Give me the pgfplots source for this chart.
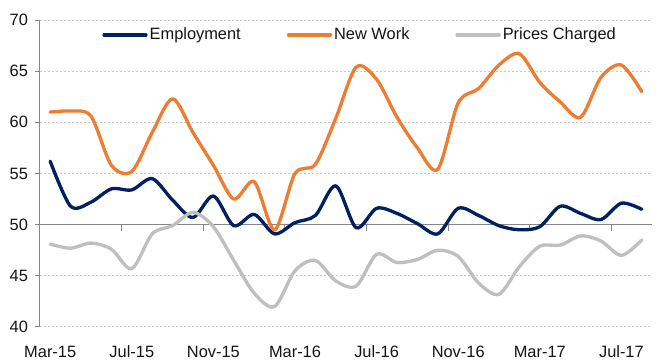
\documentclass[border=0pt]{standalone}
\usepackage{pgfplots}
\pgfplotsset{compat=1.18}
\usepackage{fontspec}
\setmainfont{Liberation Sans}
\definecolor{emp}{RGB}{0,32,96}
\definecolor{nw}{RGB}{237,125,49}
\definecolor{pc}{RGB}{191,191,191}
\definecolor{txt}{RGB}{20,20,20}
\definecolor{axgray}{RGB}{134,134,134}
\definecolor{gridgray}{RGB}{200,200,200}
\begin{document}
\fontsize{12.3}{14}\selectfont
\begin{tikzpicture}
\begin{axis}[
  scale only axis, width=459pt, height=230.25pt,
  xmin=-0.5, xmax=29.5, ymin=40, ymax=70,
  ytick={40,45,...,70},
  xtick={0,4,...,28},
  xticklabels={Mar-15,Jul-15,Nov-15,Mar-16,Jul-16,Nov-16,Mar-17,Jul-17},
  axis lines*=left,
  x axis line style={draw=none},
  y axis line style={draw=axgray, line width=0.75pt},
  xtick style={draw=none},
  ytick style={draw=axgray, line width=0.75pt},
  tick align=outside,
  major tick length=3.75pt,
  ymajorgrids,
  grid style={gridgray, line width=0.75pt, dash pattern=on 1.5pt off 1.5pt},
  /pgf/number format/assume math mode=true,
  tick label style={font=\fontsize{12.3}{14}\selectfont, text=txt},
  yticklabel style={xshift=-1pt},
  xticklabel style={yshift=-6pt},
  legend style={at={(axis description cs:0.523,0.951)}, anchor=center,
    draw=none, fill=none, font=\fontsize{12.3}{14}\selectfont, text=txt,
    nodes={inner sep=1.5pt},
    /tikz/every even column/.append style={column sep=33pt}},
  legend columns=3,
  legend cell align=left,
  legend image code/.code={\draw[#1] (0pt,0pt) -- (31.5pt,0pt);},
  every axis plot/.append style={line width=2.5pt, line join=round, line cap=round},
]
\draw[axgray, line width=0.75pt] (axis cs:-0.5,50) -- (axis cs:29.5,50);
\draw[axgray, line width=0.75pt] (axis cs:3.5,50) -- ++(0pt,-4.5pt);
\draw[axgray, line width=0.75pt] (axis cs:7.5,50) -- ++(0pt,-4.5pt);
\draw[axgray, line width=0.75pt] (axis cs:11.5,50) -- ++(0pt,-4.5pt);
\draw[axgray, line width=0.75pt] (axis cs:15.5,50) -- ++(0pt,-4.5pt);
\draw[axgray, line width=0.75pt] (axis cs:19.5,50) -- ++(0pt,-4.5pt);
\draw[axgray, line width=0.75pt] (axis cs:23.5,50) -- ++(0pt,-4.5pt);
\draw[axgray, line width=0.75pt] (axis cs:27.5,50) -- ++(0pt,-4.5pt);
\addplot[emp, smooth, tension=0.5] coordinates {
(0,56.2) (1,51.8) (2,52.2) (3,53.5) (4,53.4) (5,54.5) (6,52.4) (7,50.7) (8,52.8) (9,49.9)
(10,51.0) (11,49.1) (12,50.2) (13,50.9) (14,53.8) (15,49.7) (16,51.6) (17,51.1) (18,50.1) (19,49.1)
(20,51.6) (21,50.9) (22,49.9) (23,49.5) (24,49.8) (25,51.8) (26,51.1) (27,50.5) (28,52.1) (29,51.5)
};
\addlegendentry{Employment}
\addplot[nw, smooth, tension=0.5] coordinates {
(0,61.0) (1,61.1) (2,60.6) (3,55.8) (4,55.2) (5,59.0) (6,62.3) (7,59.0) (8,55.8) (9,52.5)
(10,54.2) (11,49.5) (12,55.0) (13,55.9) (14,60.4) (15,65.4) (16,64.2) (17,60.5) (18,57.5) (19,55.4)
(20,61.9) (21,63.3) (22,65.6) (23,66.7) (24,63.9) (25,62.0) (26,60.5) (27,64.4) (28,65.6) (29,63.0)
};
\addlegendentry{New Work}
\addplot[pc, smooth, tension=0.5] coordinates {
(0,48.1) (1,47.7) (2,48.2) (3,47.6) (4,45.7) (5,49.1) (6,49.9) (7,51.2) (8,49.8) (9,46.5)
(10,43.3) (11,42.0) (12,45.5) (13,46.5) (14,44.5) (15,44.0) (16,47.1) (17,46.3) (18,46.6) (19,47.5)
(20,46.9) (21,44.3) (22,43.2) (23,45.9) (24,47.9) (25,48.0) (26,48.9) (27,48.4) (28,47.0) (29,48.5)
};
\addlegendentry{Prices Charged}
\end{axis}
\pgfresetboundingbox
\useasboundingbox ([shift={(-30pt,-24.75pt)}]current axis.south west) rectangle ([shift={(15pt,15pt)}]current axis.north east);
\end{tikzpicture}
\end{document}
